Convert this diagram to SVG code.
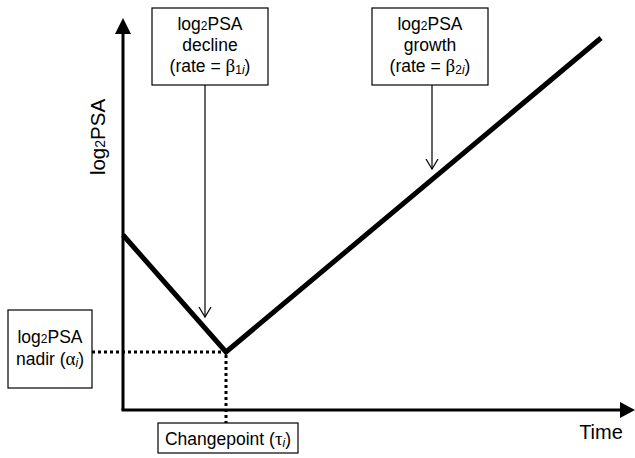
<svg xmlns="http://www.w3.org/2000/svg" width="635" height="458" viewBox="0 0 635 458">
<style>
.box{fill:#fff;stroke:#000;stroke-width:1.2}
.t{font-family:"Liberation Sans",Arial,sans-serif;font-size:17.5px;fill:#000;text-anchor:middle}
.g{font-family:"Liberation Serif","DejaVu Serif",serif;font-size:19px}
.sub{font-size:12px}
.ax{stroke:#000;stroke-width:3;fill:none}
.dot{stroke:#000;stroke-width:3;stroke-dasharray:3 3;fill:none}
.thin{stroke:#000;stroke-width:1.2;fill:none}
</style>
<defs>
<marker id="open" markerWidth="12" markerHeight="14" refX="10" refY="7" orient="auto" markerUnits="userSpaceOnUse">
<path d="M0,1 L10,7 L0,13" fill="none" stroke="#000" stroke-width="1.2"/>
</marker>
</defs>
<g id="axes">
<line class="ax" x1="123" y1="410" x2="123" y2="30"/>
<polygon points="123,18 115,34 131,34" fill="#000"/>
<line class="ax" x1="121.5" y1="410" x2="622" y2="410"/>
<polygon points="635,410 620,402 620,418" fill="#000"/>
<text class="t" style="font-size:20.5px" x="0" y="0" transform="translate(105,137) rotate(-90)">log<tspan style="font-size:14px">2</tspan>PSA</text>
<text class="t" style="font-size:20px" x="601" y="439">Time</text>
</g>
<g id="connectors">
<polyline points="123,235 226,352 601,38" fill="none" stroke="#000" stroke-width="5" stroke-linejoin="miter"/>
<line class="dot" x1="92" y1="352" x2="226" y2="352"/>
<line class="dot" x1="226" y1="355" x2="226" y2="423"/>
<line class="thin" x1="205" y1="85" x2="205" y2="317" marker-end="url(#open)"/>
<line class="thin" x1="432" y1="85" x2="432" y2="169" marker-end="url(#open)"/>
</g>
<g id="decline">
<rect class="box" x="152" y="8" width="116" height="77"/>
<text class="t" x="210" y="30">log<tspan class="sub">2</tspan>PSA</text>
<text class="t" x="210" y="51">decline</text>
<text class="t" x="210" y="72">(rate = <tspan class="g">β</tspan><tspan class="sub" dy="2">1<tspan font-style="italic">i</tspan></tspan><tspan dy="-2">)</tspan></text>
</g>
<g id="growth">
<rect class="box" x="372" y="8" width="116" height="77"/>
<text class="t" x="430" y="30">log<tspan class="sub">2</tspan>PSA</text>
<text class="t" x="430" y="51">growth</text>
<text class="t" x="430" y="72">(rate = <tspan class="g">β</tspan><tspan class="sub" dy="2">2<tspan font-style="italic">i</tspan></tspan><tspan dy="-2">)</tspan></text>
</g>
<g id="nadir">
<rect class="box" x="8" y="310" width="84" height="78"/>
<text class="t" x="50" y="343">log<tspan class="sub">2</tspan>PSA</text>
<text class="t" x="50" y="365">nadir (<tspan class="g">α</tspan><tspan class="sub" font-style="italic" dy="2">i</tspan><tspan dy="-2">)</tspan></text>
</g>
<g id="changepoint">
<rect class="box" x="158" y="423" width="140" height="30"/>
<text class="t" x="228" y="445">Changepoint (<tspan class="g">τ</tspan><tspan class="sub" font-style="italic" dy="2">i</tspan><tspan dy="-2">)</tspan></text>
</g>
</svg>
